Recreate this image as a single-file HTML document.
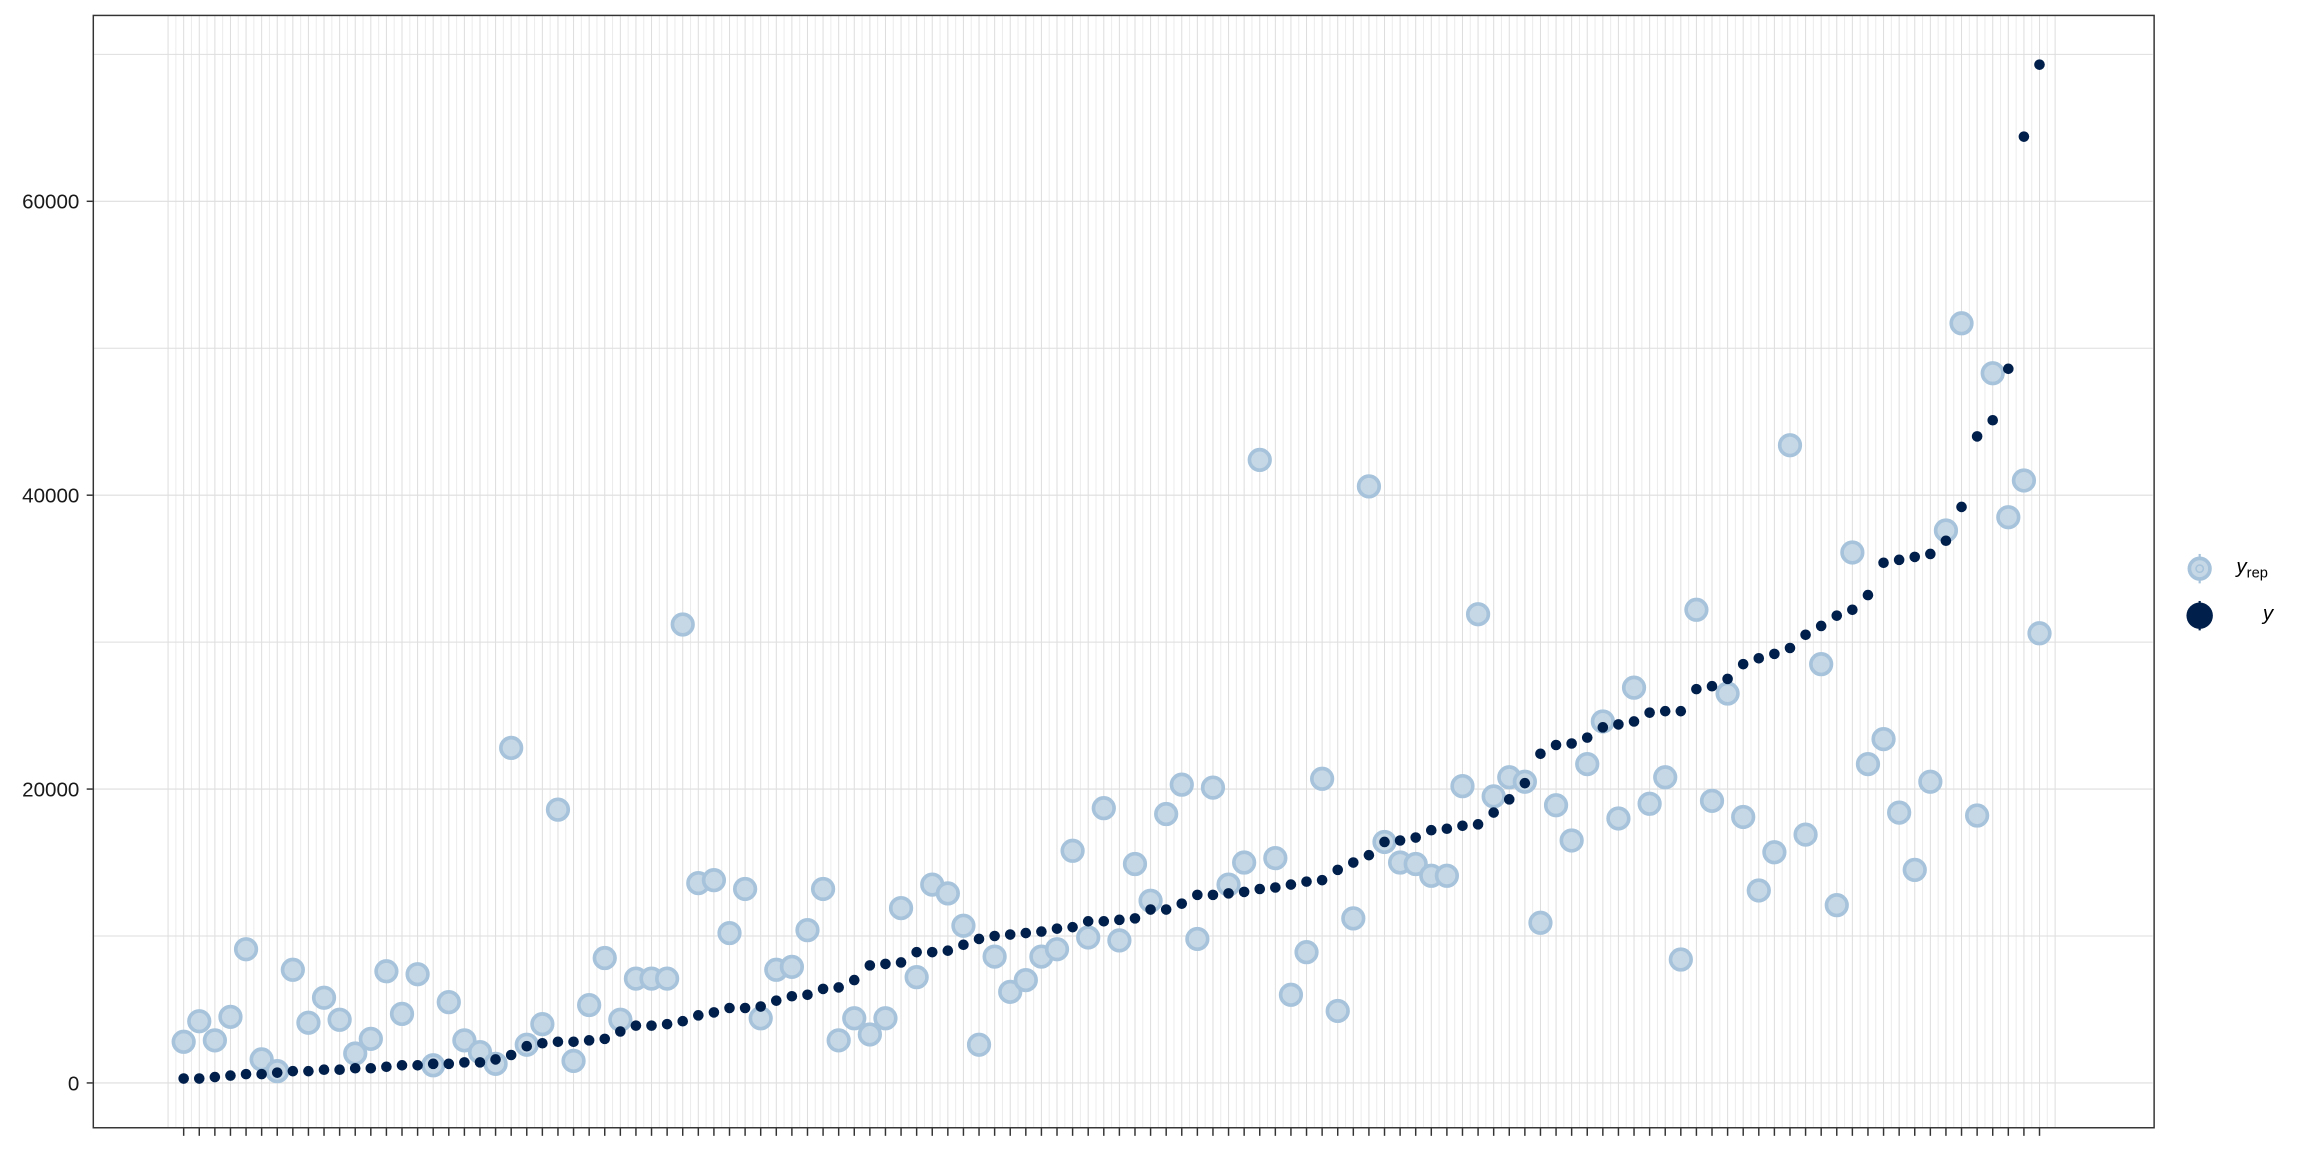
<!DOCTYPE html>
<html><head><meta charset="utf-8"><style>
html,body{margin:0;padding:0;background:#fff;}
svg{display:block;font-family:"Liberation Sans",Arial,sans-serif;}
</style></head><body>
<svg id="chart" width="2304" height="1152" viewBox="0 0 1568 784" xmlns="http://www.w3.org/2000/svg">
<rect x="0" y="0" width="1568" height="784" fill="#fff"/>
<g id="grid"></g>
<g id="marks"></g>
<rect x="63.5" y="10.5" width="1402.5" height="757" fill="none" stroke="#333" stroke-width="1"/>
<g id="axes"></g>
<g>
  <line x1="1497" y1="377" x2="1497" y2="397" stroke="#a6c3db" stroke-width="1.5"/>
  <circle cx="1497" cy="387" r="7" fill="#c6d7e5" stroke="#a6c3db" stroke-width="2.5"/>
  <circle cx="1497" cy="387" r="2.5" fill="none" stroke="#a6c3db" stroke-width="1"/>
  <text x="1522" y="390" font-size="14" font-style="italic">y<tspan font-size="10" font-style="normal" dy="3">rep</tspan></text>
  <line x1="1497" y1="409" x2="1497" y2="429" stroke="#011f4b" stroke-width="1.5"/>
  <circle cx="1497" cy="419" r="9" fill="#011f4b"/>
  <text x="1540" y="422" font-size="14" font-style="italic">y</text>
</g>
</svg>
<script>
const yObs = [300,300,400,500,600,600,700,800,800,900,900,1000,1000,1100,1200,1200,1300,1300,1400,1400,1600,1900,2500,2700,2800,2800,2900,3000,3500,3900,3900,4000,4200,4600,4800,5100,5100,5200,5600,5900,6000,6400,6500,7000,8000,8100,8200,8900,8900,9000,9400,9800,10000,10100,10200,10300,10500,10600,11000,11000,11100,11200,11800,11800,12200,12800,12800,12900,13000,13200,13300,13500,13700,13800,14500,15000,15500,16400,16500,16700,17200,17300,17500,17600,18400,19300,20400,22400,23000,23100,23500,24200,24400,24600,25200,25300,25300,26800,27000,27500,28500,28900,29200,29600,30500,31100,31800,32200,33200,35400,35600,35800,36000,36900,39200,44000,45100,48600,64400,69300];
const yRep = [2800,4200,2900,4500,9100,1600,800,7700,4100,5800,4300,2000,3000,7600,4700,7400,1200,5500,2900,2100,1300,22800,2600,4000,18600,1500,5300,8500,4300,7100,7100,7100,31200,13600,13800,10200,13200,4400,7700,7900,10400,13200,2900,4400,3300,4400,11900,7200,13500,12900,10700,2600,8600,6200,7000,8600,9100,15800,9900,18700,9700,14900,12400,18300,20300,9800,20100,13500,15000,42400,15300,6000,8900,20700,4900,11200,40600,16400,15000,14900,14100,14100,20200,31900,19500,20800,20500,10900,18900,16500,21700,24600,18000,26900,19000,20800,8400,32200,19200,26500,18100,13100,15700,43400,16900,28500,12100,36100,21700,23400,18400,14500,20500,37600,51700,18200,48300,38500,41000,30600];
const yTicks = [0,20000,40000,60000];
const yGrid = [0,10000,20000,30000,40000,50000,60000,70000];

const NS="http://www.w3.org/2000/svg";
const n=yObs.length;
const xS=i=>125+(i)*(1388-125)/(n-1);
const yS=v=>737-(v/10000)*100;
function mk(tag,attrs,parent){const e=document.createElementNS(NS,tag);for(const k in attrs)e.setAttribute(k,attrs[k]);parent.appendChild(e);return e;}
const grid=document.getElementById('grid'),marks=document.getElementById('marks'),axes=document.getElementById('axes');
const step=(1388-125)/(n-1);
for(let k=-2;k<=2*n;k++){
  const x=125+k*step/2;
  if(x<64||x>1465)continue;
  const g=mk('line',{x1:x,x2:x,y1:11,y2:767,stroke:k%2===0?'#dedede':'#ececec','stroke-width':0.7},grid);
  
  
}
yGrid.forEach(v=>{
  const g=mk('line',{x1:64,x2:1465,y1:yS(v),y2:yS(v),stroke:'#dedede','stroke-width':0.7},grid);
  
  
});
yRep.forEach((v,i)=>{
  const c=mk('circle',{cx:xS(i),cy:yS(v),r:7,fill:'#c6d7e5',stroke:'#a6c3db','stroke-width':2.5},marks);
  
  
});
yObs.forEach((v,i)=>{
  const c=mk('circle',{cx:xS(i),cy:yS(v),r:3.6,fill:'#011f4b'},marks);
  
  
});
for(let i=0;i<n;i++){
  const t=mk('line',{x1:xS(i),x2:xS(i),y1:768,y2:773,stroke:'#333','stroke-width':1},axes);
  
  
}
yTicks.forEach(v=>{
  const t=mk('line',{x1:59,x2:63,y1:yS(v),y2:yS(v),stroke:'#333','stroke-width':1},axes);
  
  
  const l=mk('text',{x:54,y:yS(v)+5,'text-anchor':'end','font-size':14,fill:'#1a1a1a'},axes);
  l.textContent=String(v);
  
  
});
</script>
</body></html>
